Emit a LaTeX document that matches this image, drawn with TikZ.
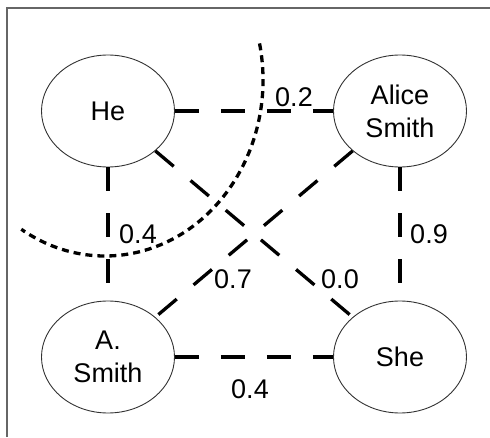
\documentclass[tikz,border=0pt]{standalone}
\usepackage{fontspec}
\setmainfont{Liberation Sans}
\begin{document}
\begin{tikzpicture}[x=1pt,y=1pt,
  every node/.style={font=\fontsize{27}{33}\selectfont},
  person/.style={ellipse, draw=black!80, line width=0.9pt,
    minimum width=133pt, minimum height=112pt, inner sep=0pt, align=center},
  link/.style={line width=3.3pt, dash pattern=on 24pt off 22pt},
  weight/.style={inner sep=0pt},
  boundary/.style={line width=3.3pt, dash pattern=on 7pt off 5pt},
  frame/.style={draw=black!60, line width=1.2pt}]
\usetikzlibrary{shapes.geometric}
\useasboundingbox (0,0) rectangle (490,437);

% frame (top and left edges)
\coordinate (fbl) at (7,0);
\coordinate (ftl) at (7,429);
\coordinate (ftr) at (490,429);
\draw[frame] (fbl) -- (ftl) -- (ftr);

% people
\node[person] (he)     at (108,326) {He};
\node[person] (alice)  at (400,326) {Alice\\Smith};
\node[person] (asmith) at (108,80)  {A.\\Smith};
\node[person] (she)    at (400,80)  {She};

% similarity links
\draw[link] (he) -- (alice);
\draw[link] (he) -- (asmith);
\draw[link] (he) -- (she);
\draw[link] (alice) -- (asmith);
\draw[link] (alice) -- (she);
\draw[link] (asmith) -- (she);

% weights
\node[weight] (w1) at (294,340) {0.2};
\node[weight] (w2) at (138,203) {0.4};
\node[weight] (w3) at (233,158) {0.7};
\node[weight] (w4) at (340,158) {0.0};
\node[weight] (w5) at (429,203) {0.9};
\node[weight] (w6) at (250,48)  {0.4};

% cluster boundary
\coordinate (arcstart) at ({105+158*cos(12)},{357+176*sin(12)});
\draw[boundary] (arcstart) arc[start angle=12, end angle=-122, x radius=158, y radius=176];
\end{tikzpicture}
\end{document}
